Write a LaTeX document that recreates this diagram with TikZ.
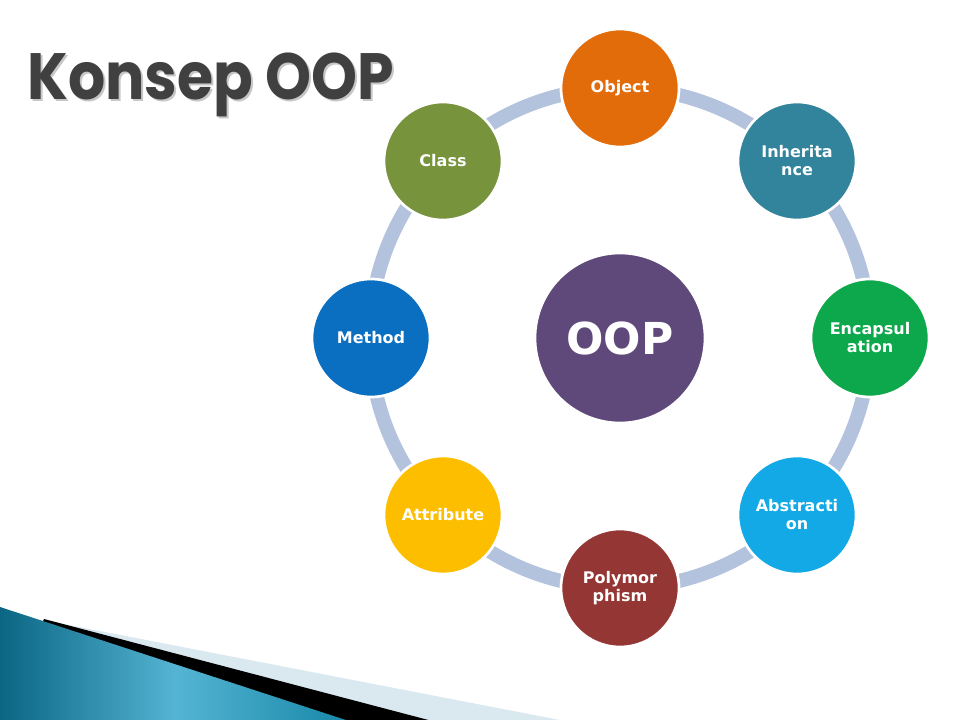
\documentclass[tikz,border=0pt]{standalone}
\usepackage{fontspec}
\setmainfont{DejaVu Sans}
\newfontfamily\titlefont{Poppins}
\newfontfamily\labelfont{DejaVu Sans}
\definecolor{ringblue}{HTML}{B4C3DD}
\definecolor{cObject}{HTML}{E36C0A}
\definecolor{cInherit}{HTML}{31849B}
\definecolor{cEncap}{HTML}{0DA84B}
\definecolor{cAbstr}{HTML}{12A9E6}
\definecolor{cPoly}{HTML}{943634}
\definecolor{cAttr}{HTML}{FDBE00}
\definecolor{cMethod}{HTML}{0A6FC0}
\definecolor{cClass}{HTML}{77933C}
\definecolor{cOOP}{HTML}{5F497A}
\definecolor{titlegray}{HTML}{404040}
\definecolor{tealdark}{HTML}{0A6683}
\definecolor{teallight}{HTML}{55B4D3}
\definecolor{tealmid}{HTML}{1687A8}
\definecolor{paleband}{HTML}{DAE8F0}
\tikzset{
  x=0.75pt, y=-0.75pt,
  concept/.style={circle, minimum size=118*0.75pt, inner sep=0pt,
    draw=white, line width=2pt, text=white, align=center,
    font=\labelfont\bfseries\fontsize{12pt}{13.5pt}\selectfont},
  hub/.style={circle, minimum size=170*0.75pt, inner sep=0pt,
    fill=cOOP, draw=white, line width=2pt, text=white,
    font=\labelfont\bfseries\fontsize{33pt}{36pt}\selectfont},
  ring/.style={draw=ringblue, line width=14*0.75pt}
}
\newcommand{\titletext}{\resizebox*{275pt}{48pt}{\titlefont\bfseries Konsep OOP}}
\begin{document}
\begin{tikzpicture}
\useasboundingbox (0,0) rectangle (960,720);
\fill[white] (0,0) rectangle (960,720);

% corner ribbon
\fill[paleband] (48,621) -- (570,722) -- (0,722) -- cycle;
\fill[black] (44,619) -- (436,722) -- (0,722) -- cycle;
\shade[left color=tealdark, right color=tealmid, middle color=teallight]
  (0,607) -- (352,722) -- (0,722) -- cycle;

% title
\node[anchor=base west, inner sep=0pt, text=black!22] (titleshadow) at (29,102) {\titletext};
\node[anchor=base west, inner sep=0pt, text=titlegray] (title) at (27,100) {\titletext};

% hub and ring
\node[hub] (oop) at (620,338) {OOP};
\draw[ring] (oop.center) circle[radius=250];

% concepts around the ring
\node[concept, fill=cObject]  (object)  at (620,88)  {Object};
\node[concept, fill=cInherit] (inherit) at (797,161) {Inherita\\nce};
\node[concept, fill=cEncap]   (encap)   at (870,338) {Encapsul\\ation};
\node[concept, fill=cAbstr]   (abstr)   at (797,515) {Abstracti\\on};
\node[concept, fill=cPoly]    (poly)    at (620,588) {Polymor\\phism};
\node[concept, fill=cAttr]    (attr)    at (443,515) {Attribute};
\node[concept, fill=cMethod]  (method)  at (371,338) {Method};
\node[concept, fill=cClass]   (class)   at (443,161) {Class};
\end{tikzpicture}
\end{document}
